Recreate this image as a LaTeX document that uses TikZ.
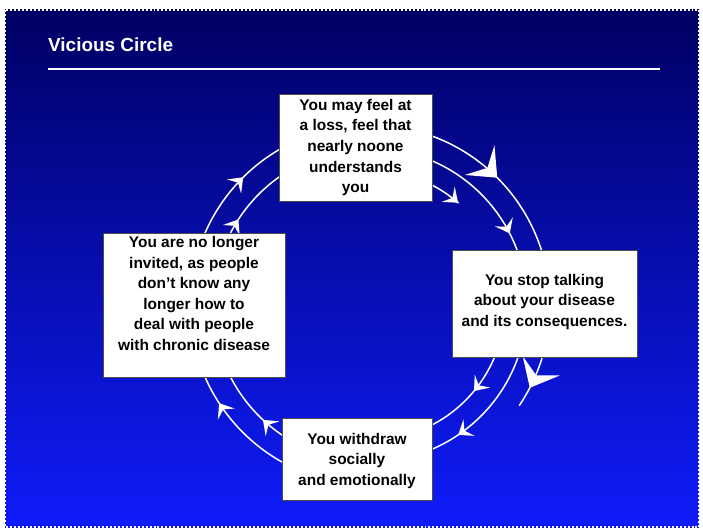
\documentclass[tikz,border=0pt]{standalone}
\usepackage{fontspec}
\setmainfont{Liberation Sans}
\usetikzlibrary{arrows.meta,decorations.markings}
\definecolor{bgtop}{RGB}{0,0,100}
\definecolor{bgmid}{RGB}{2,12,200}
\definecolor{bgbot}{RGB}{15,28,250}
\tikzset{
  arcline/.style={white, line width=1.5pt},
  box/.style={draw=black!70, fill=white, line width=0.6pt, inner sep=0pt},
  boxtext/.style={align=center, font=\fontsize{15.5}{20.7}\selectfont\bfseries, text=black},
  smallarrow/.style={postaction={decorate, decoration={markings, mark=at position #1 with {\arrow{Stealth[length=13pt,width=20pt,inset=5.5pt,white]}}}}},
  bigarrow/.style={postaction={decorate, decoration={markings, mark=at position #1 with {\arrow{Stealth[length=25pt,width=42pt,inset=11pt,white]}}}}}
}
\begin{document}
\begin{tikzpicture}[x=1bp,y=-1bp]
\useasboundingbox (0,0) rectangle (703,532);
\fill[white] (0,0) rectangle (703,532);
\shade[top color=bgtop, middle color=bgmid, bottom color=bgbot] (5,10) rectangle (699,527);
\draw[white, dash pattern=on 2pt off 2pt, line width=1.2pt] (5,10) rectangle (699,527);

% title
\node[anchor=base west, text=white, font=\fontsize{19}{22}\selectfont\bfseries, inner sep=0pt] (title) at (48,52) {Vicious Circle};
\coordinate (ruleA) at (48,69);
\coordinate (ruleB) at (660,69);
\draw[white, line width=1.8pt] (ruleA) -- (ruleB);

% arcs (clockwise)
\draw[arcline, smallarrow=0.56] plot[domain=200:245, samples=40] ({370+180*cos(\x)},{305+180*sin(\x)});
\draw[arcline, smallarrow=0.2] plot[domain=205:245, samples=40] ({370+157*cos(\x)},{305+157*sin(\x)});
\draw[arcline, smallarrow=0.71] plot[domain=115:160, samples=40] ({370+180*cos(\x)},{305+180*sin(\x)});
\draw[arcline, smallarrow=0.45] plot[domain=115:155, samples=40] ({370+157*cos(\x)},{305+157*sin(\x)});
\draw[arcline, bigarrow=0.5] plot[domain=-80:-10, samples=50] ({370+180*cos(\x)},{305+180*sin(\x)});
\draw[arcline, smallarrow=0.76] plot[domain=-75:-12, samples=50] ({370+157*cos(\x)},{305+157*sin(\x)});
\draw[arcline, smallarrow=0.99] plot[domain=-75:-49, samples=30] ({370+135*cos(\x)},{305+135*sin(\x)});
\draw[arcline, smallarrow=0.41] plot[domain=15:75, samples=50] ({370+135*cos(\x)},{305+135*sin(\x)});
\draw[arcline, smallarrow=0.68] plot[domain=15:75, samples=50] ({370+157*cos(\x)},{305+157*sin(\x)});
\draw[arcline, bigarrow=0.7] plot[domain=12:34, samples=30] ({370+180*cos(\x)},{305+180*sin(\x)});

% boxes
\node[box, minimum width=153bp, minimum height=107bp] (topbox) at (355.5,147.5) {};
\node[box, minimum width=182bp, minimum height=144bp] (leftbox) at (194,305) {};
\node[box, minimum width=185bp, minimum height=107bp] (rightbox) at (544.5,303.5) {};
\node[box, minimum width=150bp, minimum height=82bp] (botbox) at (357,459) {};

% texts
\node[boxtext] (toptext) at (355.5,147.5) {You may feel at\\a loss, feel that\\nearly noone\\understands\\you};
\node[boxtext] (lefttext) at (194,293.5) {You are no longer\\invited, as people\\don't know any\\longer how to\\deal with people\\with chronic disease};
\node[boxtext] (righttext) at (544.5,302) {You stop talking\\about your disease\\and its consequences.};
\node[boxtext] (bottext) at (357,461) {You withdraw\\socially\\and emotionally};
\end{tikzpicture}
\end{document}
